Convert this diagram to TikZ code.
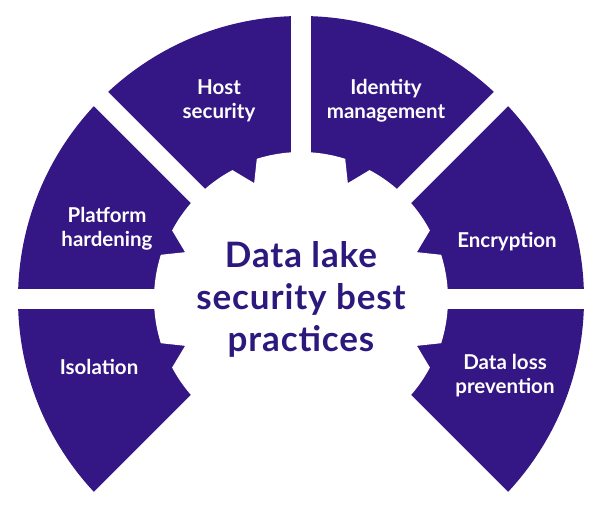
\documentclass[tikz,border=0pt]{standalone}
\usepackage{fontspec}
\setmainfont{Lato}
\newfontfamily\titlefont[LetterSpace=2.5]{Lato}
\definecolor{segpurple}{RGB}{52,22,132}
\definecolor{titlepurple}{RGB}{45,25,125}
\begin{document}
\begin{tikzpicture}[x=1pt,y=1pt,
  seglabel/.style={text=white, font=\fontsize{20.5}{24}\selectfont\bfseries, align=center, inner sep=0pt},
  titlelabel/.style={text=titlepurple, font=\titlefont\fontsize{35}{42}\selectfont\bfseries, align=center, inner sep=0pt},
  gapstrip/.style={draw=white, line width=20pt},
  hole/.style={fill=white},
]
\clip (0,0) rectangle (603,507);
\fill[white] (0,0) rectangle (603,507);
\coordinate (c) at (301,208);
\begin{scope}[shift={(c)}]
  % outer ring
  \fill[segpurple] (0,0) circle[radius=283];
  % gaps between the segments
  \draw[gapstrip] (180:300) -- (0:300);
  \draw[gapstrip] (225:300) -- (45:300);
  \draw[gapstrip] (315:300) -- (135:300);
  \draw[gapstrip] (0,0) -- (90:300);
  % removed bottom quarter
  \fill[white] (0,0) -- (225:400) -- (315:400) -- cycle;
  % toothed centre
  \path[hole] (-45:146) arc[start angle=-45, end angle=-28, radius=146]
    -- (-22:125) -- (-17.5:147) arc[start angle=-17.5, end angle=17.5, radius=147]
    -- (22:125) -- (28:146) arc[start angle=28, end angle=62, radius=146]
    -- (68:125) -- (72.5:147) arc[start angle=72.5, end angle=107.5, radius=147]
    -- (112:125) -- (118:146) arc[start angle=118, end angle=152, radius=146]
    -- (158:125) -- (162.5:147) arc[start angle=162.5, end angle=197.5, radius=147]
    -- (202:125) -- (208:146) arc[start angle=208, end angle=225, radius=146]
    -- cycle;
\end{scope}
\node[seglabel] (host) at (219,406) {Host\\security};
\node[seglabel] (ident) at (386,406) {Identity\\management};
\node[seglabel] (plat) at (107,278) {Platform\\hardening};
\node[seglabel] (encr) at (507,265) {Encryption};
\node[seglabel] (isol) at (99,140) {Isolation};
\node[seglabel] (dlp) at (505,131) {Data loss\\prevention};
\node[titlelabel] (title) at (301,208) {Data lake\\security best\\practices};
\end{tikzpicture}
\end{document}
